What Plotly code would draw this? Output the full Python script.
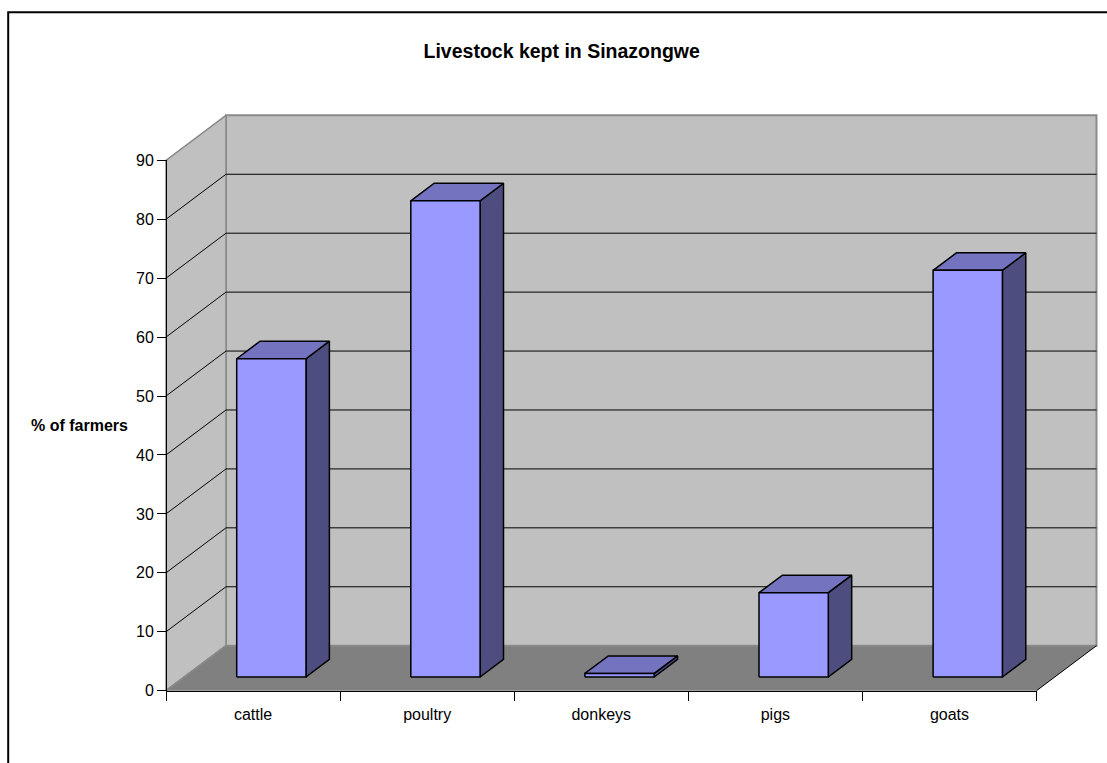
import plotly.graph_objects as go

# ---- data ----
categories = ["cattle", "poultry", "donkeys", "pigs", "goats"]
pct_farmers = [54.0, 80.8, 0.6, 14.3, 69.0]
y_tick_values = [0, 10, 20, 30, 40, 50, 60, 70, 80, 90]
chart_title = "Livestock kept in Sinazongwe"
y_title = "% of farmers"

# ---- pseudo-3D geometry (in axis units) ----
Y_MAX = 90
N = len(categories)
DEPTH_X = 0.3446      # horizontal shift of the back plane, in category units
DEPTH_Y = 7.636       # vertical shift of the back plane, in value units
BAR_W = 0.398         # bar width, in category units
FRONT, BACK = 0.305, 0.695   # bar front/back position inside the depth

# pixel layout of the drawing area
W, H = 1107, 763
PX_X0, PX_PER_CAT = 166.0, 174.1
PX_Y0, PX_PER_UNIT = 690.7, 5.893
L, R, T, B = 150.0, 1100.0, 110.0, 700.0

x_range = [(L - PX_X0) / PX_PER_CAT, (R - PX_X0) / PX_PER_CAT]
y_range = [(PX_Y0 - B) / PX_PER_UNIT, (PX_Y0 - T) / PX_PER_UNIT]


def fx(px):
    return (px - L) / (R - L)


def fy(py):
    return (B - py) / (B - T)


FONT = "Liberation Sans, Arial, sans-serif"
WALL = "#C0C0C0"
WALL_EDGE = "#8A8A8A"
FLOOR = "#808080"
FRONT_C, TOP_C, SIDE_C = "#9999FF", "#7373BF", "#4D4D80"

fig = go.Figure()


def poly(xs, ys, fill, line_color=None, width=0):
    fig.add_trace(go.Scatter(
        x=list(xs) + [xs[0]], y=list(ys) + [ys[0]],
        mode="lines", fill="toself", fillcolor=fill,
        line=dict(color=line_color or fill, width=width),
        hoverinfo="skip", showlegend=False))


def lines(xs, ys, color, width):
    fig.add_trace(go.Scatter(
        x=xs, y=ys, mode="lines", line=dict(color=color, width=width),
        hoverinfo="skip", showlegend=False))


# back wall
poly([DEPTH_X, N + DEPTH_X, N + DEPTH_X, DEPTH_X],
     [DEPTH_Y, DEPTH_Y, Y_MAX + DEPTH_Y, Y_MAX + DEPTH_Y], WALL, WALL_EDGE, 2)
# side wall
poly([0, DEPTH_X, DEPTH_X, 0],
     [0, DEPTH_Y, Y_MAX + DEPTH_Y, Y_MAX], WALL, WALL_EDGE, 1.5)
# floor
poly([0, N, N + DEPTH_X, DEPTH_X], [0, 0, DEPTH_Y, DEPTH_Y], FLOOR)
lines([DEPTH_X, N + DEPTH_X], [DEPTH_Y, DEPTH_Y], WALL_EDGE, 1.5)
lines([0, DEPTH_X], [0, DEPTH_Y], WALL_EDGE, 1.5)
lines([N, N + DEPTH_X], [0, DEPTH_Y], "black", 1)

# gridlines running along the side wall and the back wall
gx, gy = [], []
for v in y_tick_values[1:-1]:
    gx += [0, DEPTH_X, N + DEPTH_X, None]
    gy += [v, v + DEPTH_Y, v + DEPTH_Y, None]
lines(gx, gy, "black", 1)

# bars
ox, oy = (BACK - FRONT) * DEPTH_X, (BACK - FRONT) * DEPTH_Y
for i, v in enumerate(pct_farmers):
    x0 = i + 0.5 - BAR_W / 2 + FRONT * DEPTH_X
    x1 = x0 + BAR_W
    y0 = FRONT * DEPTH_Y
    y1 = y0 + v
    # side face
    poly([x1, x1 + ox, x1 + ox, x1], [y0, y0 + oy, y1 + oy, y1], SIDE_C, "black", 1.5)
    # top face
    poly([x0, x1, x1 + ox, x0 + ox], [y1, y1, y1 + oy, y1 + oy], TOP_C, "black", 1.5)
    # front face
    poly([x0, x1, x1, x0], [y0, y0, y1, y1], FRONT_C, "black", 1.5)

# placeholder trace so the front axes subplot is drawn
fig.add_trace(go.Scatter(x=[None], y=[None], xaxis="x2", yaxis="y2",
                         showlegend=False, hoverinfo="skip"))

fig.update_layout(
    width=W, height=H,
    margin=dict(l=L, r=W - R, t=T, b=H - B, pad=0),
    paper_bgcolor="white",
    plot_bgcolor="rgba(0,0,0,0)",
    showlegend=False,
    font=dict(family=FONT, color="black", size=16),
    title=dict(text=chart_title, x=561.7 / W, xanchor="center",
               y=1 - 51 / H, yanchor="middle", yref="container",
               font=dict(family=FONT, size=19.5, weight="bold", color="black")),
    xaxis=dict(range=x_range, visible=False, fixedrange=True),
    yaxis=dict(range=y_range, visible=False, fixedrange=True),
    xaxis2=dict(
        domain=[fx(PX_X0), fx(PX_X0 + N * PX_PER_CAT)], anchor="y2",
        range=[0, N], showline=True, linecolor="black", linewidth=1,
        showgrid=False, zeroline=False,
        tickmode="array", tickvals=[i + 0.5 for i in range(N)],
        ticktext=categories, ticks="", tickfont=dict(size=16),
        ticklabelstandoff=9,
        minor=dict(tickmode="array", tickvals=list(range(N + 1)),
                   ticks="outside", ticklen=9, tickcolor="black",
                   tickwidth=1, showgrid=False),
        fixedrange=True),
    yaxis2=dict(
        domain=[fy(PX_Y0), fy(PX_Y0 - Y_MAX * PX_PER_UNIT)], anchor="free",
        position=fx(PX_X0), range=[0, Y_MAX],
        showline=True, linecolor="black", linewidth=1,
        showgrid=False, zeroline=False,
        tickmode="array", tickvals=y_tick_values, ticks="outside",
        ticklen=9, tickcolor="black", tickfont=dict(size=16),
        fixedrange=True),
    annotations=[dict(
        text="<b>" + y_title + "</b>", xref="paper", yref="paper",
        x=fx(79), y=fy(425), xanchor="center", yanchor="middle",
        showarrow=False, font=dict(family=FONT, size=16, color="black"))],
    shapes=[dict(
        type="rect", xref="paper", yref="paper",
        x0=fx(8.2), x1=fx(1130), y0=fy(790), y1=fy(12.2),
        line=dict(color="black", width=2), fillcolor="rgba(0,0,0,0)")],
)

fig.write_html("out.html", config={"displayModeBar": False})
